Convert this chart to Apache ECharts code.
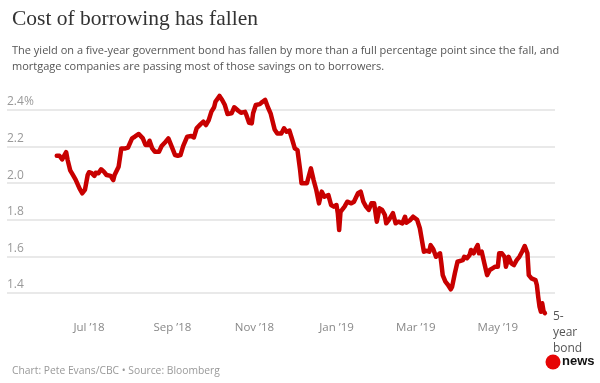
<!DOCTYPE html>
<html>
<head>
<meta charset="utf-8">
<script src="https://cdn.jsdelivr.net/npm/echarts@6/dist/echarts.min.js"></script>
<style>
html,body{margin:0;padding:0;background:#fff;}
#chart{width:600px;height:383px;}
</style>
</head>
<body>
<div id="chart"></div>
<script>
const titleText = 'Cost of borrowing has fallen';
const subtitleText = 'The yield on a five-year government bond has fallen by more than a full percentage point since the fall, and\nmortgage companies are passing most of those savings on to borrowers.';
const footerText = 'Chart: Pete Evans/CBC \u2022 Source: Bloomberg';
const seriesName = '5-year bond yield';

const dates = [
'2018-06-07','2018-06-08','2018-06-09','2018-06-11','2018-06-14','2018-06-15','2018-06-17','2018-06-19','2018-06-21','2018-06-24',
'2018-06-26','2018-06-28','2018-06-30','2018-07-01','2018-07-03','2018-07-05','2018-07-06','2018-07-08','2018-07-10','2018-07-12',
'2018-07-14','2018-07-17','2018-07-19','2018-07-20','2018-07-23','2018-07-25','2018-07-28','2018-07-30','2018-08-02','2018-08-04',
'2018-08-07','2018-08-10','2018-08-12','2018-08-14','2018-08-15','2018-08-17','2018-08-19','2018-08-22','2018-08-24','2018-08-27',
'2018-08-29','2018-09-01','2018-09-03','2018-09-05','2018-09-07','2018-09-09','2018-09-10','2018-09-12','2018-09-15','2018-09-17',
'2018-09-19','2018-09-22','2018-09-24','2018-09-26','2018-09-28','2018-09-30','2018-10-02','2018-10-03','2018-10-06','2018-10-08',
'2018-10-10','2018-10-12','2018-10-15','2018-10-17','2018-10-20','2018-10-22','2018-10-25','2018-10-26','2018-10-28','2018-10-30',
'2018-10-31','2018-11-02','2018-11-03','2018-11-05','2018-11-07','2018-11-09','2018-11-11','2018-11-13','2018-11-16','2018-11-18',
'2018-11-21','2018-11-23','2018-11-25','2018-11-27','2018-11-29','2018-12-01','2018-12-03','2018-12-05','2018-12-06','2018-12-10',
'2018-12-11','2018-12-13','2018-12-15','2018-12-17','2018-12-19','2018-12-21','2018-12-23','2018-12-26','2018-12-28','2018-12-30',
'2019-01-01','2019-01-02','2019-01-03','2019-01-04','2019-01-07','2019-01-09','2019-01-12','2019-01-14','2019-01-17','2019-01-19',
'2019-01-21','2019-01-23','2019-01-24','2019-01-25','2019-01-27','2019-01-29','2019-01-31','2019-02-02','2019-02-04','2019-02-06',
'2019-02-07','2019-02-09','2019-02-12','2019-02-14','2019-02-16','2019-02-19','2019-02-21','2019-02-22','2019-02-25','2019-02-27',
'2019-03-02','2019-03-04','2019-03-05','2019-03-07','2019-03-09','2019-03-11','2019-03-12','2019-03-14','2019-03-16','2019-03-17',
'2019-03-19','2019-03-20','2019-03-21','2019-03-23','2019-03-25','2019-03-27','2019-03-28','2019-03-30','2019-04-01','2019-04-02',
'2019-04-05','2019-04-06','2019-04-08','2019-04-10','2019-04-11','2019-04-13','2019-04-14','2019-04-16','2019-04-17','2019-04-19',
'2019-04-21','2019-04-23','2019-04-25','2019-04-27','2019-04-29','2019-05-01','2019-05-02','2019-05-04','2019-05-06','2019-05-07',
'2019-05-09','2019-05-11','2019-05-13','2019-05-15','2019-05-17','2019-05-19','2019-05-21','2019-05-23','2019-05-24','2019-05-26',
'2019-05-29','2019-05-30','2019-05-31','2019-06-01','2019-06-02','2019-06-03','2019-06-04','2019-06-05'
];

const yields = [
2.15,2.14,2.15,2.13,2.17,2.13,2.07,2.045,2.02,1.97,
1.945,1.965,2.045,2.06,2.055,2.04,2.057,2.054,2.076,2.063,
2.045,2.04,2.017,2.045,2.09,2.19,2.19,2.195,2.245,2.254,
2.269,2.245,2.209,2.209,2.232,2.19,2.172,2.172,2.203,2.227,
2.245,2.19,2.154,2.15,2.154,2.203,2.209,2.254,2.258,2.25,
2.30,2.323,2.336,2.318,2.345,2.391,2.415,2.445,2.477,2.455,
2.427,2.378,2.382,2.415,2.396,2.385,2.39,2.373,2.33,2.327,
2.382,2.427,2.436,2.432,2.445,2.455,2.415,2.382,2.294,2.272,
2.272,2.30,2.281,2.287,2.24,2.19,2.181,2.07,2.0,2.0,
2.009,2.081,2.017,1.963,1.89,1.954,1.926,1.935,1.881,1.872,
1.881,1.835,1.744,1.844,1.872,1.899,1.89,1.899,1.945,1.954,
1.899,1.872,1.881,1.854,1.89,1.89,1.79,1.863,1.854,1.826,
1.781,1.80,1.836,1.781,1.79,1.781,1.817,1.784,1.80,1.817,
1.80,1.754,1.754,1.626,1.631,1.626,1.662,1.639,1.598,1.594,
1.617,1.562,1.498,1.462,1.444,1.42,1.435,1.507,1.571,1.562,
1.58,1.598,1.59,1.608,1.635,1.617,1.635,1.662,1.617,1.626,
1.562,1.498,1.526,1.535,1.544,1.544,1.617,1.617,1.598,1.544,
1.598,1.562,1.553,1.58,1.598,1.626,1.657,1.617,1.498,1.48,
1.471,1.444,1.38,1.326,1.298,1.344,1.30,1.29
];

const yTicks = [1.4, 1.6, 1.8, 2.0, 2.2, 2.4];
const xTickDates = ['2018-07-01','2018-09-01','2018-11-01','2019-01-01','2019-03-01','2019-05-01'];
const monthNames = ['Jan','Feb','Mar','Apr','May','Jun','Jul','Aug','Sep','Oct','Nov','Dec'];

function toTime(s) {
  const p = s.split('-').map(Number);
  return Date.UTC(p[0], p[1] - 1, p[2]);
}

const seriesData = dates.map((d, i) => [toTime(d), yields[i]]);
const xTickValues = xTickDates.map(toTime);

const chart = echarts.init(document.getElementById('chart'), null, {renderer: 'canvas'});
chart.setOption({
  animation: false,
  backgroundColor: '#ffffff',
  title: [
    {text: titleText, left: 7, top: 3, textStyle: {fontFamily: 'Liberation Serif', fontSize: 21.5, fontWeight: 'normal', color: '#333'}},
    {text: subtitleText, left: 7, top: 38, textStyle: {fontFamily: 'Open Sans', fontSize: 11, lineHeight: 16, fontWeight: 'normal', color: '#555'}},
    {text: footerText, left: 7, top: 361, textStyle: {fontFamily: 'Open Sans', fontSize: 10.3, fontWeight: 'normal', color: '#999'}}
  ],
  grid: {left: 7, right: 45, top: 91.7, bottom: 62.5, containLabel: false, outerBoundsMode: 'none'},
  xAxis: {
    type: 'value',
    min: toTime('2018-05-01'),
    max: toTime('2019-06-12') + 12 * 3600 * 1000,
    axisLine: {show: false},
    axisTick: {show: false, customValues: xTickValues},
    splitLine: {show: false},
    axisLabel: {
      customValues: xTickValues,
      margin: 1,
      color: '#888',
      fontFamily: 'Open Sans',
      fontSize: 11.5,
      hideOverlap: false,
      formatter: function (v) {
        const d = new Date(v);
        return monthNames[d.getUTCMonth()] + ' \u2019' + String(d.getUTCFullYear()).slice(2);
      }
    }
  },
  yAxis: {
    type: 'value',
    min: 1.25,
    max: 2.5,
    axisLine: {show: false},
    axisTick: {show: false, customValues: yTicks},
    splitLine: {show: true, lineStyle: {color: '#e2e2e2', width: 1.5}},
    axisLabel: {
      customValues: yTicks,
      inside: true,
      margin: 0,
      verticalAlign: 'bottom',
      padding: [0, 0, 2, 0],
      color: '#999',
      fontFamily: 'Open Sans',
      fontSize: 12,
      formatter: function (v) {
        const s = v.toFixed(1);
        return Math.abs(v - 2.4) < 1e-9 ? s + '%' : s;
      }
    }
  },
  series: [{
    name: seriesName,
    type: 'line',
    data: seriesData,
    showSymbol: false,
    symbol: 'none',
    lineStyle: {color: '#c80000', width: 4.5, join: 'round', cap: 'round'},
    endLabel: {
      show: true,
      formatter: '5-\nyear\nbond\nyield',
      color: '#555',
      fontFamily: 'Open Sans',
      fontSize: 12,
      lineHeight: 16,
      verticalAlign: 'top',
      distance: 8,
      offset: [0, -5]
    }
  }],
  graphic: [
    {type: 'rect', shape: {x: 544, y: 353, width: 52, height: 22}, style: {fill: '#fff'}, z: 99},
    {type: 'circle', shape: {cx: 553, cy: 362, r: 7.5}, style: {fill: '#e60505'}, z: 100},
    {type: 'text', x: 562, y: 355, style: {text: 'news', fill: '#111', font: 'bold 13px "Liberation Sans"'}, z: 100}
  ]
});
</script>
</body>
</html>
